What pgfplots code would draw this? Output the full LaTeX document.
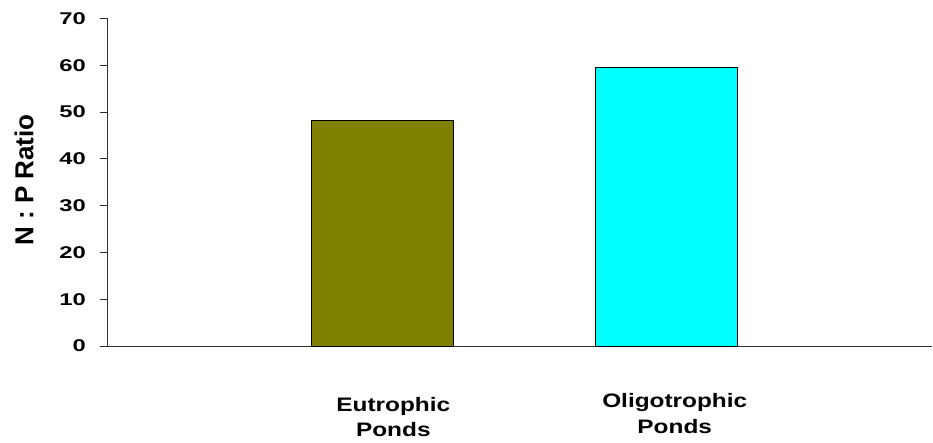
\documentclass[border=0pt]{standalone}
\usepackage{fontspec}
\setmainfont{Liberation Sans}
\usepackage{graphicx}
\usepackage{pgfplots}
\pgfplotsset{compat=1.18}

\definecolor{eutro}{HTML}{808000}
\definecolor{oligo}{HTML}{00FFFF}
\definecolor{axisgray}{HTML}{303030}

% horizontally widened bold text used for the labels
\newcommand{\ticktext}[1]{\scalebox{1.4}[1]{#1}}
\newcommand{\cattext}[1]{\scalebox{1.25}[1]{#1}}

\begin{document}
\begin{tikzpicture}
\path[use as bounding box] (0pt,0pt) rectangle (933pt,443pt);
\begin{axis}[
  at={(107pt,97pt)}, anchor=south west,
  scale only axis, width=825pt, height=327.5pt,
  xmin=0, xmax=825, ymin=0, ymax=70,
  axis x line=bottom, axis y line=left,
  axis line style={-, draw=axisgray, line width=0.9pt},
  xtick=\empty,
  ytick={0,10,...,70},
  tick align=outside,
  major tick length=7pt,
  ytick style={draw=axisgray, line width=0.9pt},
  /pgf/number format/assume math mode=true,
  yticklabel={\ticktext{\pgfmathprintnumber{\tick}}},
  yticklabel style={font=\fontsize{17}{17}\selectfont\bfseries, anchor=east, inner sep=0pt, xshift=-14pt},
  ybar, bar width=142, bar shift=0pt,
  clip=false,
]
\addplot[fill=eutro, draw=black, line width=0.9pt] coordinates {(275.7,48.3)};
\addplot[fill=oligo, draw=black, line width=0.9pt] coordinates {(559.7,59.6)};
\end{axis}

% axis title
\node[rotate=90, font=\fontsize{26}{26}\selectfont\bfseries, inner sep=0pt] at (24pt,263pt) {N : P Ratio};

% category names
\begin{scope}[every node/.style={font=\fontsize{19.5}{19.5}\selectfont\bfseries, inner sep=0pt, anchor=base}]
\node at (393.3pt,31.3pt) {\cattext{Eutrophic}};
\node at (393.3pt,6.3pt) {\cattext{Ponds}};
\node at (674.7pt,35.7pt) {\cattext{Oligotrophic}};
\node at (674.7pt,9.7pt) {\cattext{Ponds}};
\end{scope}
\end{tikzpicture}
\end{document}
